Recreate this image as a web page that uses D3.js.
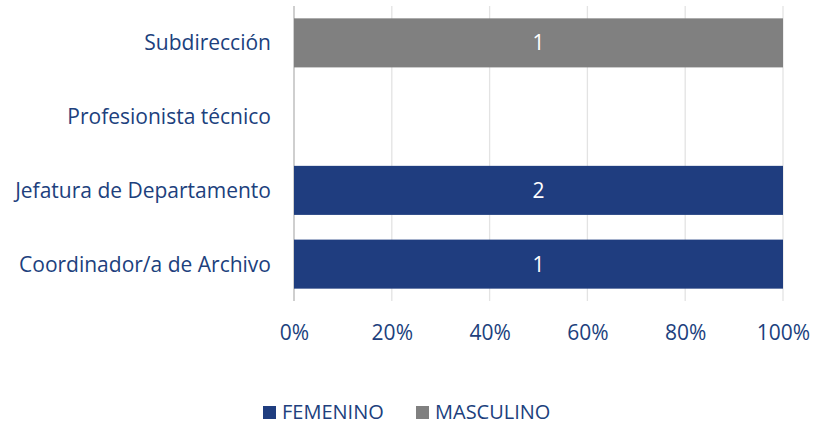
<!DOCTYPE html>
<html>
<head>
<meta charset="utf-8">
<script src="https://cdn.jsdelivr.net/npm/d3@7"></script>
<style>
  body { margin: 0; background: #fff; }
  text { font-family: "Open Sans", sans-serif; }
</style>
</head>
<body>
<div id="grafica"></div>
<script>
// Datos
var categorias = ["Subdirección", "Profesionista técnico", "Jefatura de Departamento", "Coordinador/a de Archivo"];
var femenino = [0, 0, 2, 1];
var masculino = [1, 0, 0, 0];
var series = ["FEMENINO", "MASCULINO"];
var colores = ["#1F3D7F", "#808080"];
var ticks = [0, 0.2, 0.4, 0.6, 0.8, 1];

var width = 814, height = 425;
var margin = {top: 6, right: 31, bottom: 124, left: 294};
var azul = "#203F7D";
var tamFuente = "21px";

var datos = categorias.map((c, i) => ({cat: c, FEMENINO: femenino[i], MASCULINO: masculino[i]}));

var svg = d3.select("#grafica").append("svg")
    .attr("width", width)
    .attr("height", height);

var escalaX = d3.scaleLinear()
    .domain([0, 1])
    .range([margin.left, width - margin.right]);

var escalaY = d3.scaleBand()
    .domain(categorias)
    .range([margin.top, height - margin.bottom])
    .paddingInner(0.335)
    .paddingOuter(0.1675);

// rejilla
svg.append("g")
    .selectAll("line")
    .data(ticks).enter()
    .append("line")
    .attr("x1", d => escalaX(d)).attr("x2", d => escalaX(d))
    .attr("y1", margin.top).attr("y2", height - margin.bottom)
    .attr("stroke", d => d == 0 ? "#bfbfbf" : "#e3e3e3")
    .attr("stroke-width", d => d == 0 ? 1.5 : 1.3);

// barras apiladas al 100%
var pila = d3.stack().keys(series)
    .value((d, k) => {
        var total = d.FEMENINO + d.MASCULINO;
        return total ? d[k] / total : 0;
    })(datos);

var grupos = svg.append("g")
    .selectAll("g")
    .data(pila).enter()
    .append("g")
    .attr("fill", (d, i) => colores[i]);

grupos.selectAll("rect")
    .data(d => d.map(p => ({p: p, key: d.key})))
    .enter()
    .filter(d => d.p[1] - d.p[0] > 0)
    .append("rect")
    .attr("x", d => escalaX(d.p[0]))
    .attr("y", d => escalaY(d.p.data.cat))
    .attr("width", d => escalaX(d.p[1]) - escalaX(d.p[0]))
    .attr("height", escalaY.bandwidth());

// etiquetas de datos
grupos.selectAll("text")
    .data(d => d.map(p => ({p: p, key: d.key})))
    .enter()
    .filter(d => d.p[1] - d.p[0] > 0)
    .append("text")
    .attr("x", d => (escalaX(d.p[0]) + escalaX(d.p[1])) / 2)
    .attr("y", d => escalaY(d.p.data.cat) + escalaY.bandwidth() / 2)
    .attr("dy", "0.36em")
    .attr("text-anchor", "middle")
    .attr("fill", "#fff")
    .style("font-size", tamFuente)
    .text(d => d.p.data[d.key]);

// eje Y (categorias)
svg.append("g")
    .selectAll("text")
    .data(categorias).enter()
    .append("text")
    .attr("x", margin.left - 23)
    .attr("y", d => escalaY(d) + escalaY.bandwidth() / 2)
    .attr("dy", "0.36em")
    .attr("text-anchor", "end")
    .attr("fill", azul)
    .style("font-size", tamFuente)
    .text(d => d);

// eje X
var ejeX = d3.axisBottom(escalaX)
    .tickValues(ticks)
    .tickFormat(d3.format(".0%"))
    .tickSize(0)
    .tickPadding(24);

var gx = svg.append("g")
    .attr("transform", "translate(0," + (height - margin.bottom) + ")")
    .call(ejeX);
gx.select(".domain").remove();
gx.selectAll("text")
    .attr("fill", azul)
    .style("font-size", tamFuente)
    .style("font-family", "'Open Sans', sans-serif");

// leyenda (un poco más arriba para que no se corte)
var leyenda = svg.append("g")
    .selectAll("g")
    .data(series).enter()
    .append("g")
    .attr("transform", (d, i) => "translate(" + (263 + i * 153) + ",406)");

leyenda.append("rect")
    .attr("width", 13).attr("height", 13)
    .attr("fill", (d, i) => colores[i]);

leyenda.append("text")
    .attr("x", 19)
    .attr("y", 13)
    .attr("fill", azul)
    .style("font-size", "20px")
    .text(d => d);
</script>
</body>
</html>
